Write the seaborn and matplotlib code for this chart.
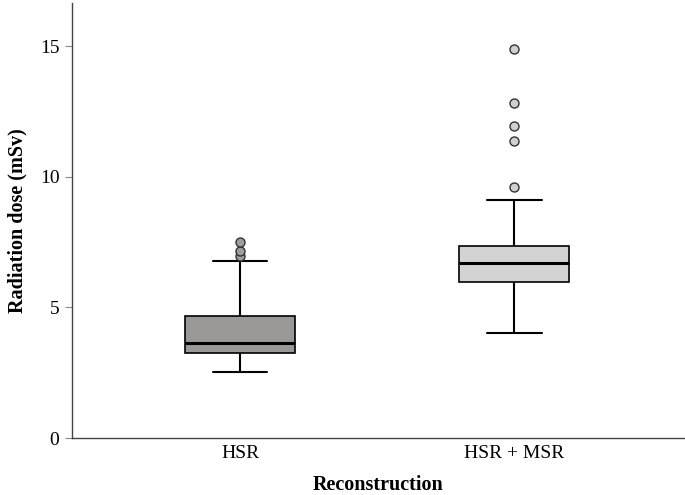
import numpy as np
import pandas as pd
import seaborn as sns
import matplotlib.pyplot as plt

# Values (mSv)
groups = ["HSR", "HSR + MSR"]
whisker_low = [2.52, 4.02]
q1 = [3.25, 5.97]
median = [3.62, 6.69]
q3 = [4.68, 7.35]
whisker_high = [6.79, 9.12]
outliers = [[6.95, 7.17, 7.50], [9.62, 11.37, 11.95, 12.83, 14.90]]

box_colors = ["#9c9797", "#d3d3d3"]
flier_colors = ["#a09d9d", "#d0d0d0"]


def build_values(low, lo_q, med, hi_q, high, extra):
    """Repeat the summary values so that linear quartiles land on them."""
    k = len(extra) + 1
    return [low] + [lo_q] * k + [med] * k + [hi_q] * k + [high] + list(extra)


rows = []
for i, g in enumerate(groups):
    vals = build_values(whisker_low[i], q1[i], median[i], q3[i], whisker_high[i], outliers[i])
    rows += [(g, v) for v in vals]
df = pd.DataFrame(rows, columns=["Reconstruction", "dose"])

sns.set_style("white")
plt.rcParams["font.family"] = ["Liberation Serif", "DejaVu Serif"]
plt.rcParams["text.color"] = "black"
plt.rcParams["axes.labelcolor"] = "black"
plt.rcParams["xtick.color"] = "black"
plt.rcParams["ytick.color"] = "black"

fig = plt.figure(figsize=(6.85, 4.95), dpi=100)
ax = fig.add_axes([0.105, 0.115, 0.895, 0.879])

sns.boxplot(
    data=df, x="Reconstruction", y="dose", hue="Reconstruction",
    order=groups, hue_order=groups, palette=box_colors, legend=False,
    width=0.4, whis=1.5, dodge=False, ax=ax,
    boxprops=dict(edgecolor="black", linewidth=1.2),
    whiskerprops=dict(color="black", linewidth=1.5),
    capprops=dict(color="black", linewidth=1.5),
    medianprops=dict(color="black", linewidth=2.2),
    flierprops=dict(marker="o", markersize=6.5, markeredgecolor="#333333",
                    markeredgewidth=1.0, linestyle="none"),
)

# outlier fill colour per group
for line in ax.lines:
    if line.get_marker() == "o" and len(line.get_xdata()) > 0:
        idx = int(round(np.mean(line.get_xdata())))
        line.set_markerfacecolor(flier_colors[idx])

ax.set_xlim(-0.6125, 1.622)
ax.set_ylim(0, 16.65)
ax.set_yticks([0, 5, 10, 15])

for side in ["top", "right"]:
    ax.spines[side].set_visible(False)
for side in ["left", "bottom"]:
    ax.spines[side].set_color("#444444")
    ax.spines[side].set_linewidth(1.0)

ax.tick_params(axis="y", length=5, width=0.8, color="#888888", labelcolor="black",
               labelsize=14, pad=4, left=True)
ax.tick_params(axis="x", length=0, labelcolor="black", labelsize=14, pad=5)

ax.set_xlabel("Reconstruction", fontsize=14.5, fontweight="bold", labelpad=9, color="black")
ax.set_ylabel("Radiation dose (mSv)", fontsize=14.5, fontweight="bold", labelpad=9, color="black")

fig.savefig("out.png", dpi=100)
